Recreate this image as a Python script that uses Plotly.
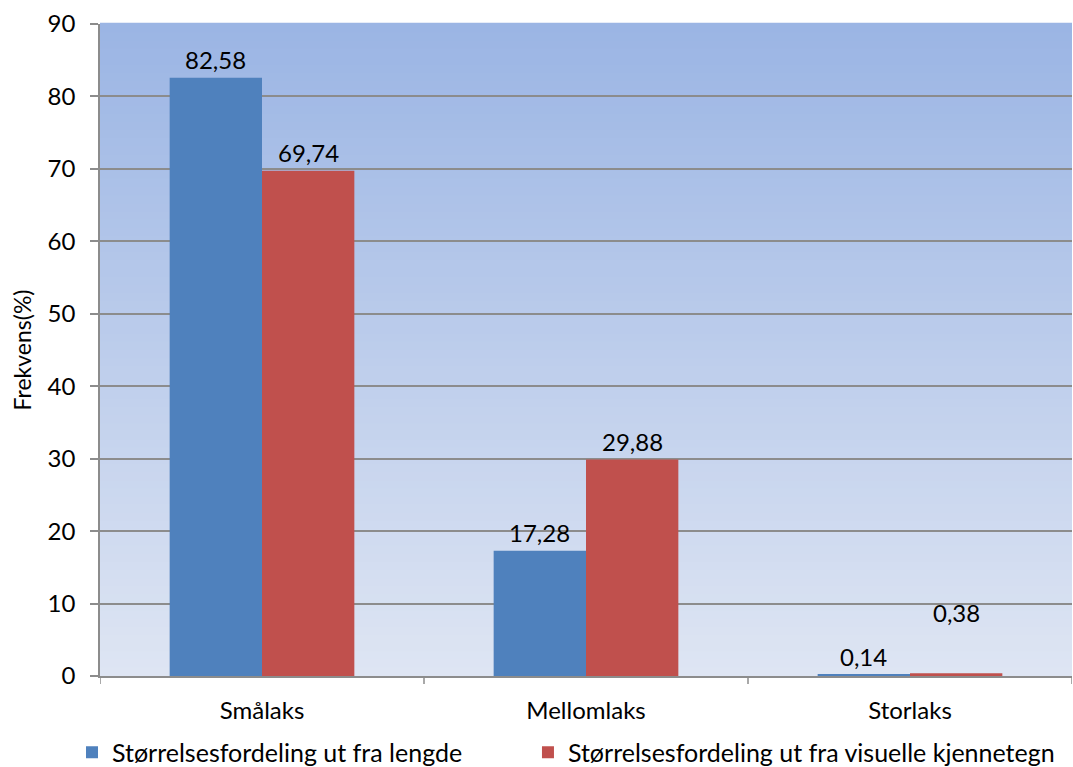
import plotly.graph_objects as go

# Size class frequencies (%)
categories = ["Smålaks", "Mellomlaks", "Storlaks"]
series_names = [
    "Størrelsesfordeling ut fra lengde",
    "Størrelsesfordeling ut fra visuelle kjennetegn",
]
lengde = [82.58, 17.28, 0.14]
visuelle = [69.74, 29.88, 0.38]
y_ticks = [0, 10, 20, 30, 40, 50, 60, 70, 80, 90]

FONT = "Lato, 'Open Sans', sans-serif"
BLUE = "#4F81BD"
RED = "#C0504D"
GRID = "#8C8C8C"

fig = go.Figure()
for name, vals, col, leg in [(series_names[0], lengde, BLUE, "legend"),
                             (series_names[1], visuelle, RED, "legend2")]:
    fig.add_trace(go.Bar(
        x=categories, y=vals, name=name, legend=leg,
        marker=dict(color=col, line=dict(width=0)),
    ))

# Value labels above bars (label for the smallest red bar sits higher)
def fmt(v):
    return f"{v:.2f}".replace(".", ",")

annotations = []
for series_idx, vals in enumerate([lengde, visuelle]):
    for cat_idx, v in enumerate(vals):
        shift = 2
        if series_idx == 1 and cat_idx == 2:
            shift = 44
        annotations.append(dict(
            x=cat_idx + (-0.143 if series_idx == 0 else 0.143), y=v,
            xref="x", yref="y", text=fmt(v), showarrow=False,
            yanchor="bottom", yshift=shift,
            font=dict(family=FONT, size=24, color="#000000"),
        ))

# Vertical gradient for the plot area background
shapes = []
n_steps = 80
top = (155, 181, 228)
bottom = (222, 229, 243)
for i in range(n_steps):
    t = i / (n_steps - 1)
    r = round(bottom[0] + (top[0] - bottom[0]) * t)
    g = round(bottom[1] + (top[1] - bottom[1]) * t)
    b = round(bottom[2] + (top[2] - bottom[2]) * t)
    shapes.append(dict(
        type="rect", xref="x domain", yref="y domain",
        x0=0, x1=1, y0=i / n_steps, y1=(i + 1) / n_steps + 0.002,
        fillcolor=f"rgb({r},{g},{b})", line=dict(width=0), layer="below",
    ))

# Category boundary tick marks under the x axis
for k in range(4):
    shapes.append(dict(
        type="line", xref="x", yref="paper",
        x0=k - 0.5, x1=k - 0.5, y0=0, y1=-8 / 652,
        line=dict(color=GRID, width=1.5),
    ))

legend_common = dict(
    orientation="h", xanchor="left",
    yref="paper", y=-0.1175, yanchor="middle",
    font=dict(family=FONT, size=25), itemsizing="constant",
    bgcolor="rgba(0,0,0,0)",
)

fig.update_layout(
    width=1073, height=767,
    margin=dict(l=100, r=1, t=24, b=91, autoexpand=False),
    paper_bgcolor="white",
    plot_bgcolor="rgba(0,0,0,0)",
    separators=",.",
    barmode="group",
    bargap=0.43,
    bargroupgap=0,
    font=dict(family=FONT, size=24, color="#000000"),
    showlegend=True,
    legend=dict(x=-0.0288, **legend_common),
    legend2=dict(x=0.4403, **legend_common),
    shapes=shapes,
    annotations=annotations,
    xaxis=dict(
        range=[-0.5, 2.5], showgrid=False, showline=True,
        linecolor=GRID, linewidth=1.5, ticks="", tickfont=dict(size=24),
        ticklabelstandoff=12, fixedrange=True,
    ),
    yaxis=dict(
        range=[0, 90], tickvals=y_ticks, showgrid=True, gridcolor=GRID,
        gridwidth=2, showline=True, linecolor=GRID, linewidth=1.5,
        ticks="outside", ticklen=8, tickcolor=GRID, tickwidth=1.5,
        zeroline=False, tickfont=dict(size=24), ticklabelstandoff=10,
        title=dict(text="Frekvens(%)", font=dict(size=23), standoff=10),
    ),
)

fig.write_html("out.html")
